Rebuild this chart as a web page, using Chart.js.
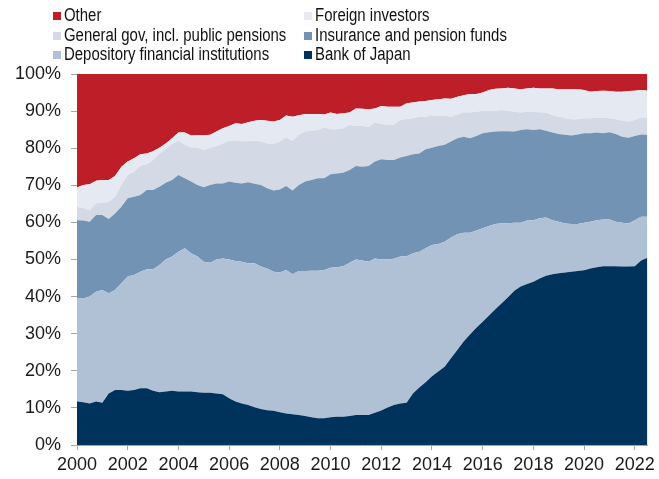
<!DOCTYPE html>
<html>
<head>
<meta charset="utf-8">
<script src="https://cdn.jsdelivr.net/npm/chart.js@4.4.0/dist/chart.umd.min.js"></script>
<style>
    body { margin: 0; background: #fff; }
    #wrap { position: relative; width: 659px; height: 479px; }
    #legend { position: absolute; left: 0; top: 0; width: 659px; height: 66px; font-family: 'Liberation Sans', Arial, sans-serif; font-size: 18px; color: #111; }
    .item { position: absolute; white-space: nowrap; line-height: 20px; }
    .item span.box { display: inline-block; width: 8px; height: 8px; margin-right: 3px; vertical-align: 1px; }
    .item span.txt { display: inline-block; transform: scaleX(0.83); transform-origin: 0 50%; }
</style>
</head>
<body>
<div id="wrap">
    <canvas id="holdersChart" width="659" height="479"></canvas>
    <div id="legend"></div>
</div>
<script>
// Quarterly data, 2000Q1 - 2022Q3, share of JGB holdings (%)
const quarters = [
    '2000Q1','2000Q2','2000Q3','2000Q4','2001Q1','2001Q2','2001Q3','2001Q4',
    '2002Q1','2002Q2','2002Q3','2002Q4','2003Q1','2003Q2','2003Q3','2003Q4',
    '2004Q1','2004Q2','2004Q3','2004Q4','2005Q1','2005Q2','2005Q3','2005Q4',
    '2006Q1','2006Q2','2006Q3','2006Q4','2007Q1','2007Q2','2007Q3','2007Q4',
    '2008Q1','2008Q2','2008Q3','2008Q4','2009Q1','2009Q2','2009Q3','2009Q4',
    '2010Q1','2010Q2','2010Q3','2010Q4','2011Q1','2011Q2','2011Q3','2011Q4',
    '2012Q1','2012Q2','2012Q3','2012Q4','2013Q1','2013Q2','2013Q3','2013Q4',
    '2014Q1','2014Q2','2014Q3','2014Q4','2015Q1','2015Q2','2015Q3','2015Q4',
    '2016Q1','2016Q2','2016Q3','2016Q4','2017Q1','2017Q2','2017Q3','2017Q4',
    '2018Q1','2018Q2','2018Q3','2018Q4','2019Q1','2019Q2','2019Q3','2019Q4',
    '2020Q1','2020Q2','2020Q3','2020Q4','2021Q1','2021Q2','2021Q3','2021Q4',
    '2022Q1','2022Q2','2022Q3'
];

const bankOfJapan = [
    11.7, 11.5, 11.2, 11.7, 11.4, 13.9, 14.8, 14.8, 14.6, 14.8, 15.3, 15.3,
    14.6, 14.2, 14.4, 14.6, 14.4, 14.4, 14.4, 14.2, 14.1, 14.1, 13.9, 13.7,
    12.6, 11.7, 11.2, 10.8, 10.2, 9.7, 9.4, 9.2, 8.8, 8.5, 8.3, 8.1,
    7.8, 7.5, 7.2, 7.2, 7.5, 7.6, 7.6, 7.8, 8.1, 8.1, 8.1, 8.7,
    9.3, 10.1, 10.8, 11.2, 11.4, 13.9, 15.5, 16.9, 18.5, 19.8, 21.1, 23.4,
    25.6, 27.9, 29.8, 31.6, 33.2, 34.9, 36.6, 38.2, 39.8, 41.6, 42.7, 43.4,
    44.0, 44.9, 45.6, 46.0, 46.3, 46.5, 46.7, 46.9, 47.1, 47.6, 47.9, 48.2,
    48.2, 48.2, 48.1, 48.1, 48.2, 49.7, 50.5
];
const depository = [
    27.8, 28.0, 28.8, 29.6, 30.4, 27.0, 27.0, 28.8, 30.8, 31.0, 31.4, 32.1,
    32.8, 34.3, 35.6, 36.2, 37.7, 38.6, 37.3, 36.6, 35.3, 35.0, 36.1, 36.6,
    37.4, 37.9, 38.2, 38.2, 38.8, 38.4, 38.2, 37.5, 37.7, 38.7, 37.7, 38.8,
    39.1, 39.5, 39.8, 40.0, 40.3, 40.3, 40.6, 41.3, 41.9, 41.6, 41.3, 41.6,
    40.7, 39.9, 39.4, 39.6, 39.5, 37.8, 36.6, 36.1, 35.4, 34.4, 33.7, 32.5,
    31.2, 29.3, 27.4, 26.2, 25.2, 24.1, 23.0, 21.6, 20.0, 18.3, 17.2, 17.1,
    16.6, 16.2, 15.7, 14.6, 13.9, 13.2, 12.9, 12.7, 12.8, 12.6, 12.7, 12.6,
    12.6, 12.0, 11.8, 11.6, 12.4, 11.8, 11.0
];
const insurancePension = [
    21.1, 21.0, 20.2, 20.7, 20.2, 20.0, 20.6, 20.6, 21.1, 21.1, 20.7, 21.3,
    21.3, 21.1, 20.7, 20.6, 20.7, 18.9, 19.3, 19.3, 20.1, 21.0, 20.5, 20.2,
    21.0, 21.1, 21.1, 21.8, 21.4, 22.0, 21.6, 21.9, 22.4, 22.6, 22.6, 23.2,
    24.1, 24.4, 24.9, 24.7, 25.2, 25.3, 25.2, 25.0, 25.2, 25.3, 25.8, 26.1,
    27.0, 26.8, 26.6, 26.7, 27.0, 26.7, 26.5, 26.7, 26.2, 26.4, 26.1, 25.9,
    25.9, 25.9, 25.5, 25.5, 25.6, 25.3, 24.9, 24.8, 24.8, 24.6, 25.0, 24.6,
    24.3, 24.0, 23.4, 23.6, 23.6, 23.9, 23.8, 24.1, 24.1, 23.8, 23.6, 23.2,
    23.5, 23.6, 23.2, 23.1, 22.7, 22.2, 22.1
];
const generalGov = [
    3.5, 3.4, 3.1, 3.1, 3.3, 4.6, 4.5, 5.9, 6.3, 6.8, 7.9, 7.0,
    8.1, 9.0, 9.0, 9.7, 9.2, 9.0, 9.2, 10.0, 10.0, 10.0, 10.0, 10.8,
    11.0, 11.3, 11.4, 11.1, 11.6, 11.7, 12.1, 12.5, 12.9, 13.1, 13.4, 13.5,
    13.5, 13.3, 13.0, 13.7, 12.1, 11.9, 12.0, 12.2, 10.8, 11.0, 10.6, 10.5,
    9.5, 9.5, 9.6, 10.1, 10.0, 9.7, 9.9, 8.8, 8.8, 8.1, 7.9, 6.7,
    6.4, 6.6, 6.9, 6.5, 6.1, 5.8, 5.6, 5.7, 5.5, 5.3, 4.7, 4.7,
    4.9, 4.5, 4.9, 4.7, 4.7, 4.5, 4.4, 4.1, 4.1, 4.1, 4.0, 4.3,
    3.8, 4.0, 4.3, 4.4, 4.3, 4.6, 4.6
];
const foreignInvestors = [
    5.3, 6.2, 7.0, 6.1, 6.1, 5.9, 5.6, 4.9, 3.6, 3.6, 3.1, 2.9,
    2.4, 1.5, 1.6, 1.6, 2.2, 3.3, 3.2, 3.4, 4.0, 3.5, 4.0, 4.1,
    4.0, 4.7, 4.6, 5.1, 5.4, 5.8, 6.1, 6.1, 5.8, 5.9, 6.5, 5.3,
    4.7, 4.5, 4.3, 3.5, 4.5, 4.1, 4.0, 3.3, 4.7, 4.6, 4.7, 3.8,
    4.9, 4.9, 4.8, 3.6, 4.2, 4.2, 4.1, 4.2, 4.1, 4.5, 4.6, 4.8,
    4.8, 4.6, 5.0, 4.8, 4.9, 5.6, 5.9, 5.8, 6.2, 6.3, 6.3, 6.3,
    6.5, 6.5, 6.5, 7.2, 7.4, 7.8, 8.1, 8.1, 7.6, 7.1, 7.2, 7.2,
    7.3, 7.4, 7.8, 8.2, 7.9, 7.4, 7.3
];
const other = [
    30.6, 29.9, 29.7, 28.8, 28.6, 28.6, 27.5, 25.0, 23.6, 22.7, 21.6, 21.4,
    20.8, 19.9, 18.7, 17.3, 15.8, 15.8, 16.6, 16.5, 16.5, 16.4, 15.5, 14.6,
    14.0, 13.3, 13.5, 13.0, 12.6, 12.4, 12.6, 12.8, 12.4, 11.2, 11.5, 11.1,
    10.8, 10.8, 10.8, 10.9, 10.4, 10.8, 10.6, 10.4, 9.3, 9.4, 9.5, 9.3,
    8.6, 8.8, 8.8, 8.8, 7.9, 7.7, 7.4, 7.3, 7.0, 6.8, 6.6, 6.7,
    6.1, 5.7, 5.4, 5.4, 5.0, 4.3, 4.0, 3.9, 3.7, 3.9, 4.1, 3.9,
    3.7, 3.9, 3.9, 3.9, 4.1, 4.1, 4.1, 4.1, 4.3, 4.8, 4.6, 4.5,
    4.6, 4.8, 4.8, 4.6, 4.5, 4.3, 4.5
];

const yTicks = [0, 10, 20, 30, 40, 50, 60, 70, 80, 90, 100];

// quarter label -> decimal year for the linear x axis
function toYear(q) {
    return parseInt(q.slice(0, 4)) + (parseInt(q.slice(5)) - 1) / 4;
}

function toPoints(values) {
    return values.map((v, i) => ({ x: toYear(quarters[i]), y: v }));
}

const series = [
    { label: 'Bank of Japan', data: bankOfJapan, color: '#00335b' },
    { label: 'Depository financial institutions', data: depository, color: '#b0c1d6' },
    { label: 'Insurance and pension funds', data: insurancePension, color: '#7393b4' },
    { label: 'General gov, incl. public pensions', data: generalGov, color: '#d3dae6' },
    { label: 'Foreign investors', data: foreignInvestors, color: '#e5e9f2' },
    { label: 'Other', data: other, color: '#be1e28' }
];

const ctx = document.getElementById('holdersChart').getContext('2d');
const axisColor = '#a6a6a6';
const tickFont = { family: 'Liberation Sans', size: 18 };

const myChart = new Chart(ctx, {
    type: 'line',
    data: {
        datasets: series.map((s, i) => ({
            label: s.label,
            data: toPoints(s.data),
            backgroundColor: s.color,
            borderColor: s.color,
            borderWidth: 0,
            pointRadius: 0,
            tension: 0,
            fill: i === 0 ? 'origin' : '-1'
        }))
    },
    options: {
        responsive: false,
        animation: false,
        layout: { padding: { left: 0, right: 8, top: 74, bottom: 0 } },
        scales: {
            x: {
                type: 'linear',
                min: 2000,
                max: 2022.5,
                grid: { drawOnChartArea: false, drawTicks: true, tickLength: 5, color: axisColor },
                border: { display: true, color: axisColor },
                ticks: {
                    stepSize: 2,
                    includeBounds: false,
                    maxRotation: 0,
                    padding: 4,
                    color: '#1a1a1a',
                    font: tickFont,
                    callback: v => String(v)
                },
                afterFit: scale => { scale.height = 34; }
            },
            y: {
                stacked: true,
                min: 0,
                max: 100,
                grid: { drawOnChartArea: false, drawTicks: true, tickLength: 6, color: axisColor },
                border: { display: true, color: axisColor },
                afterBuildTicks: scale => { scale.ticks = yTicks.map(v => ({ value: v })); },
                ticks: {
                    padding: 10,
                    color: '#1a1a1a',
                    font: tickFont,
                    callback: v => v + '%'
                },
                afterFit: scale => { scale.width = 77; }
            }
        },
        plugins: {
            legend: { display: false },
            tooltip: { enabled: false }
        }
    }
});

// Legend in two columns, same order as the reference
const legendRows = [
    ['Other', 'Foreign investors'],
    ['General gov, incl. public pensions', 'Insurance and pension funds'],
    ['Depository financial institutions', 'Bank of Japan']
];
const legendEl = document.getElementById('legend');
legendRows.forEach((row, r) => {
    row.forEach((name, c) => {
        const s = series.find(d => d.label === name);
        const item = document.createElement('div');
        item.className = 'item';
        item.style.left = (c === 0 ? 53 : 304) + 'px';
        item.style.top = (5 + r * 19.5) + 'px';
        item.innerHTML = '<span class="box" style="background:' + s.color + '"></span>' +
            '<span class="txt">' + name + '</span>';
        legendEl.appendChild(item);
    });
});
</script>
</body>
</html>
